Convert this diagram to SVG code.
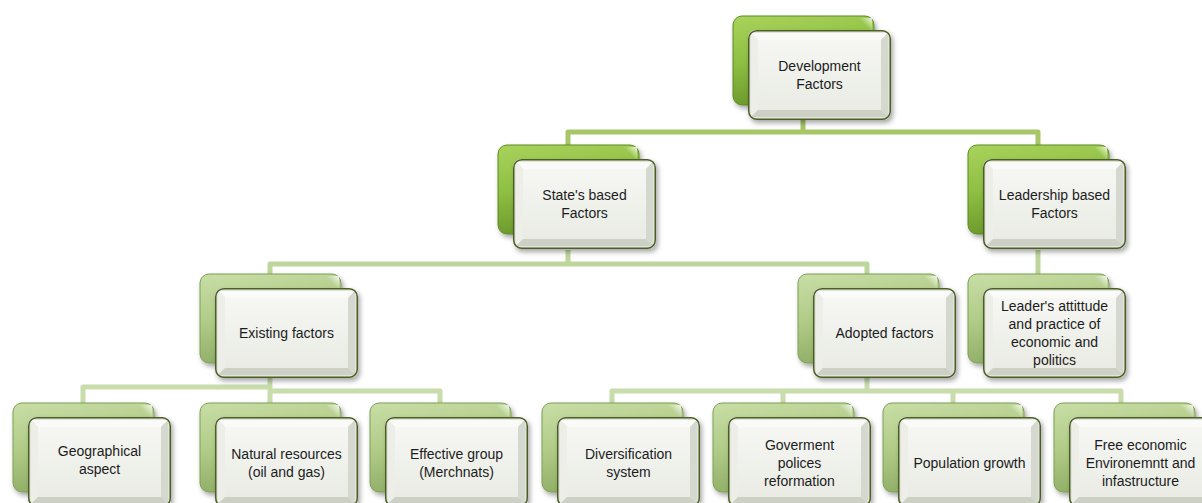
<svg xmlns="http://www.w3.org/2000/svg" xmlns:xlink="http://www.w3.org/1999/xlink" width="1202" height="503" viewBox="0 0 1202 503">
<defs>
<style>
.lbl{font-family:"Liberation Sans",Arial,sans-serif;font-size:14px;fill:#1c1c1c;text-anchor:middle}
.c1{fill:none;stroke:#a6c667;stroke-width:5;stroke-linejoin:round}
.c2{fill:none;stroke:#bdd69b;stroke-width:5;stroke-linejoin:round}
.c3{fill:none;stroke:#c8dcac;stroke-width:5;stroke-linejoin:round}
</style>
<linearGradient id="gV" x1="0" y1="0" x2="0.25" y2="1">
<stop offset="0" stop-color="#a9d35c"/>
<stop offset="0.5" stop-color="#8fbf43"/>
<stop offset="1" stop-color="#6b982b"/>
</linearGradient>
<linearGradient id="gL" x1="0" y1="0" x2="0.25" y2="1">
<stop offset="0" stop-color="#c8deA6"/>
<stop offset="0.5" stop-color="#b1cc88"/>
<stop offset="1" stop-color="#8fae66"/>
</linearGradient>
<linearGradient id="gIn" x1="0" y1="0" x2="0" y2="1">
<stop offset="0" stop-color="#f6f7f3"/>
<stop offset="1" stop-color="#e9ebe4"/>
</linearGradient>
<linearGradient id="gHi" x1="1" y1="0" x2="0.6" y2="0.4">
<stop offset="0" stop-color="#ffffff" stop-opacity="0.8"/>
<stop offset="1" stop-color="#ffffff" stop-opacity="0"/>
</linearGradient>
<filter id="sh" x="-10%" y="-10%" width="125%" height="130%">
<feDropShadow dx="2" dy="3" stdDeviation="2.5" flood-color="#000" flood-opacity="0.35"/>
</filter>
<g id="backV">
<rect x="0" y="0" width="141" height="89" rx="9" fill="url(#gV)" stroke="#5d8a22" stroke-width="1" filter="url(#sh)"/>
<polygon points="122,2 139,2 139,20" fill="url(#gHi)"/>
</g>
<g id="backL">
<rect x="0" y="0" width="141" height="89" rx="9" fill="url(#gL)" stroke="#7f9d57" stroke-width="1" filter="url(#sh)"/>
<polygon points="122,2 139,2 139,20" fill="url(#gHi)"/>
</g>
<g id="front">
<rect x="0" y="0" width="143" height="90" rx="8" fill="#e2e4dc" filter="url(#sh)"/>
<polygon points="3,3 140,3 133,10 10,10" fill="#fafbf8"/>
<polygon points="3,3 10,10 10,80 3,87" fill="#eceee7"/>
<polygon points="140,3 140,87 133,80 133,10" fill="#d5d8ce"/>
<polygon points="3,87 10,80 133,80 140,87" fill="#cdd0c5"/>
<rect x="10" y="10" width="123" height="70" fill="url(#gIn)"/>
<rect x="0.75" y="0.75" width="141.5" height="88.5" rx="8" fill="none" stroke="#4b5f25" stroke-width="1.5"/>
</g>
</defs>
<rect width="1202" height="503" fill="#ffffff"/>
<g id="connectors">
<path class="c1" d="M803,118 V132 M568,146 V132 H1038 V146"/>
<path class="c2" d="M568,250 V264 M270,276 V264 H867 V276"/>
<path class="c2" d="M1038,250 V276"/>
<path class="c3" d="M270,378 V404 M83,404 V387 H270 M270,391 H440 V404"/>
<path class="c3" d="M867,378 V391 M612,404 V391 H1121 V404 M783,391 V404 M953,391 V404"/>
</g>
<g id="n-development" transform="translate(733,16)">
<use xlink:href="#backV"/><use xlink:href="#front" x="15" y="14"/>
<text class="lbl" x="86.5" y="55">Development</text><text class="lbl" x="86.5" y="73">Factors</text>
</g>
<g id="n-state" transform="translate(498,145)">
<use xlink:href="#backV"/><use xlink:href="#front" x="15" y="14"/>
<text class="lbl" x="86.5" y="55">State's based</text><text class="lbl" x="86.5" y="73">Factors</text>
</g>
<g id="n-leadership" transform="translate(968,145)">
<use xlink:href="#backV"/><use xlink:href="#front" x="15" y="14"/>
<text class="lbl" x="86.5" y="55">Leadership based</text><text class="lbl" x="86.5" y="73">Factors</text>
</g>
<g id="n-existing" transform="translate(200,274)">
<use xlink:href="#backL"/><use xlink:href="#front" x="15" y="14"/>
<text class="lbl" x="86.5" y="64">Existing factors</text>
</g>
<g id="n-adopted" transform="translate(798,274)">
<use xlink:href="#backL"/><use xlink:href="#front" x="15" y="14"/>
<text class="lbl" x="86.5" y="64">Adopted factors</text>
</g>
<g id="n-leaders" transform="translate(968,274)">
<use xlink:href="#backL"/><use xlink:href="#front" x="15" y="14"/>
<text class="lbl" x="86.5" y="37">Leader's attittude</text><text class="lbl" x="86.5" y="55">and practice of</text><text class="lbl" x="86.5" y="73">economic and</text><text class="lbl" x="86.5" y="91">politics</text>
</g>
<g id="n-geographical" transform="translate(13,403)">
<use xlink:href="#backL"/><use xlink:href="#front" x="15" y="14"/>
<text class="lbl" x="86.5" y="53">Geographical</text><text class="lbl" x="86.5" y="71">aspect</text>
</g>
<g id="n-natural" transform="translate(200,403)">
<use xlink:href="#backL"/><use xlink:href="#front" x="15" y="14"/>
<text class="lbl" x="86.5" y="56">Natural resources</text><text class="lbl" x="86.5" y="74">(oil and gas)</text>
</g>
<g id="n-effective" transform="translate(370,403)">
<use xlink:href="#backL"/><use xlink:href="#front" x="15" y="14"/>
<text class="lbl" x="86.5" y="56">Effective group</text><text class="lbl" x="86.5" y="74">(Merchnats)</text>
</g>
<g id="n-diversification" transform="translate(542,403)">
<use xlink:href="#backL"/><use xlink:href="#front" x="15" y="14"/>
<text class="lbl" x="86.5" y="56">Diversification</text><text class="lbl" x="86.5" y="74">system</text>
</g>
<g id="n-government" transform="translate(713,403)">
<use xlink:href="#backL"/><use xlink:href="#front" x="15" y="14"/>
<text class="lbl" x="86.5" y="47">Goverment</text><text class="lbl" x="86.5" y="65">polices</text><text class="lbl" x="86.5" y="83">reformation</text>
</g>
<g id="n-population" transform="translate(883,403)">
<use xlink:href="#backL"/><use xlink:href="#front" x="15" y="14"/>
<text class="lbl" x="86.5" y="65">Population growth</text>
</g>
<g id="n-free" transform="translate(1054,403)">
<use xlink:href="#backL"/><use xlink:href="#front" x="15" y="14"/>
<text class="lbl" x="86.5" y="47">Free economic</text><text class="lbl" x="86.5" y="65">Environemntt and</text><text class="lbl" x="86.5" y="83">infastructure</text>
</g>
</svg>
